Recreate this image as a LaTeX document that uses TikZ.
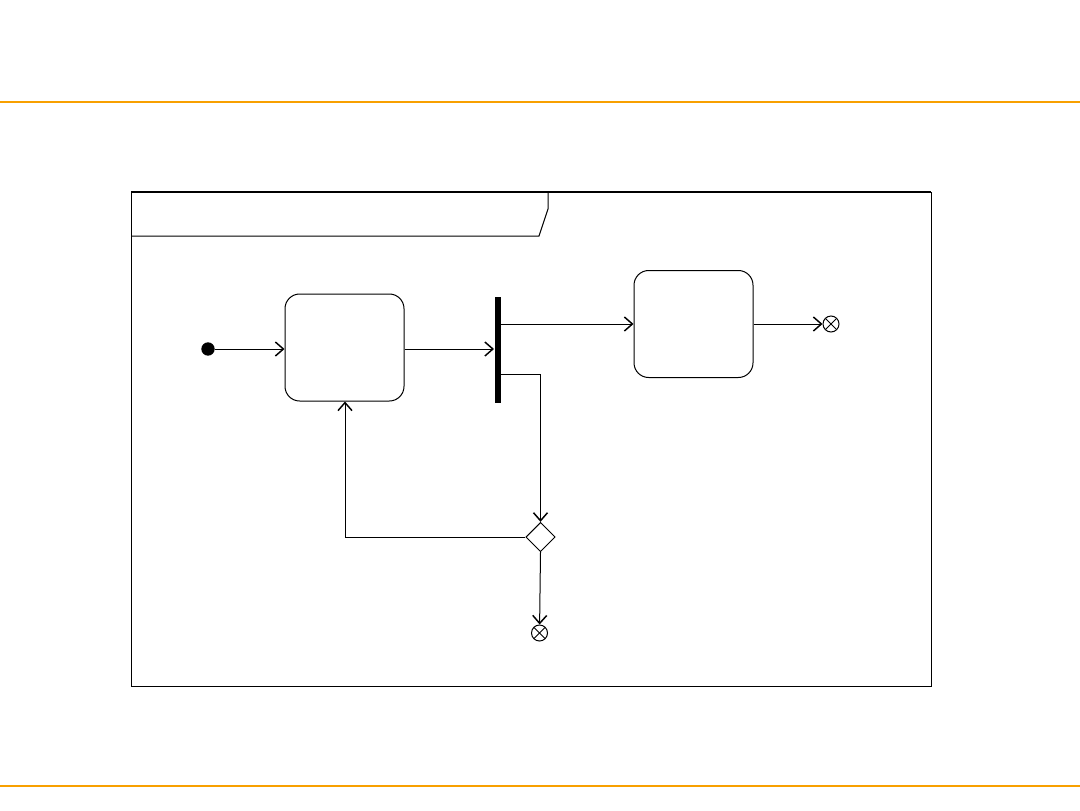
\documentclass[tikz,border=0pt]{standalone}
\usetikzlibrary{arrows.meta,shapes.geometric,calc}
\definecolor{band}{HTML}{F8A000}
\begin{document}
\begin{tikzpicture}[x=0.75pt,y=-0.75pt,
  line width=0.75pt,
  flow/.style={draw,-{Straight Barb[length=6pt,width=10.5pt,line width=1.1pt]}},
  action/.style={draw,rounded corners=11pt,minimum width=89.25pt,minimum height=80.25pt,inner sep=0pt},
  flowfinal/.style={draw,circle,minimum size=12pt,inner sep=0pt},
  decision/.style={draw,diamond,minimum size=22pt,inner sep=0pt},
  startnode/.style={fill,circle,minimum size=10pt,inner sep=0pt}]
\useasboundingbox (0,0) rectangle (1080,810);
\fill[white] (0,0) rectangle (1080,810);
\draw[band,line width=1.6pt] (0,102) -- (1080,102);
\draw[band,line width=1.6pt] (0,786) -- (1080,786);
% frame
\draw (131,192) rectangle (931,686);
\draw[line width=1.2pt] (131,192) -- (931,192);
\draw (131,236) -- (539,236) -- (548,209) -- (548,192);
% nodes
\node[startnode] (init) at (208,349) {};
\node[action] (a1) at (344.5,347.5) {};
\node[action] (a2) at (693.5,324) {};
\node[fill,minimum width=4.5pt,minimum height=80pt,inner sep=0pt] (fork) at (497.5,350) {};
\node[decision] (dec) at (540.5,537) {};
\node[flowfinal] (ff1) at (831,324) {};
\node[flowfinal] (ff2) at (539.5,633) {};
\draw ($(ff1.center)+(-5.5,-5.5)$) -- ++(11,11);
\draw ($(ff1.center)+(-5.5,5.5)$) -- ++(11,-11);
\draw ($(ff2.center)+(-5.5,-5.5)$) -- ++(11,11);
\draw ($(ff2.center)+(-5.5,5.5)$) -- ++(11,-11);
% connectors
\draw[flow] (init) -- (a1.west |- init);
\draw[flow] (a1.east |- init) -- (fork.west |- init);
\coordinate (f1) at (fork.east |- 0,324);
\draw[flow] (f1) -- (a2.west |- f1);
\draw[flow] (a2.east) -- (ff1);
\coordinate (f2) at (fork.east |- 0,374);
\draw[flow] (f2) -- (540.5,374) -- (dec.north);
\draw[flow] (dec.west) -- (345,537) -- (a1.south -| 345,0);
\draw[flow] (dec.south) -- (ff2);
\end{tikzpicture}
\end{document}
